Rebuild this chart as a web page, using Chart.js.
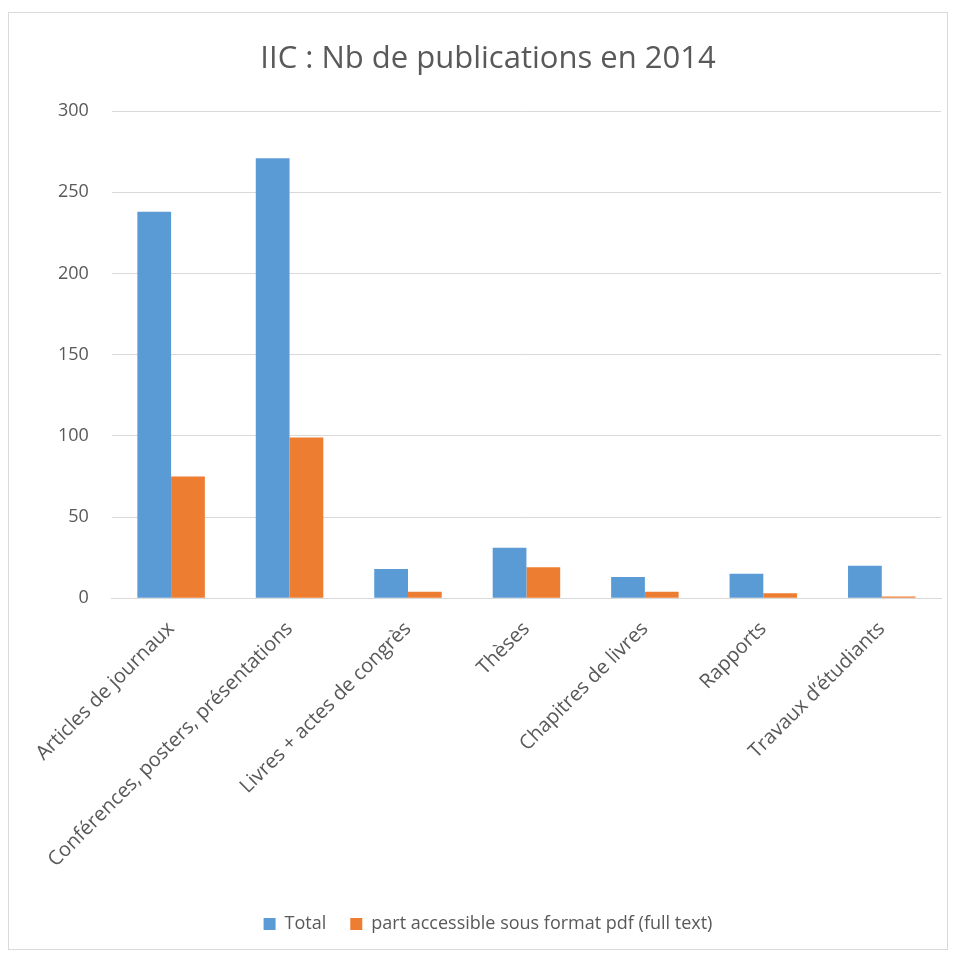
<!DOCTYPE html>
<html>
<head>
<meta charset="utf-8">
<script src="https://cdn.jsdelivr.net/npm/chart.js@4"></script>
<style>
    body { margin: 0; background: #fff; }
    #frame {
        position: absolute; left: 8px; top: 12px;
        width: 940px; height: 938px;
        border: 1px solid #d9d9d9; box-sizing: border-box;
    }
    #chart-box { position: absolute; left: 0; top: 0; width: 938px; height: 936px; }
</style>
</head>
<body>
<div id="frame"><div id="chart-box"><canvas id="pubChart"></canvas></div></div>
<script>
// Chart data
const categories = ['Articles de journaux', 'Conférences, posters, présentations', 'Livres + actes de congrès',
    'Thèses', 'Chapitres de livres', 'Rapports', 'Travaux d\u2019étudiants'];
const totalValues = [238, 271, 18, 31, 13, 15, 20];
const pdfValues = [75, 99, 4, 19, 4, 3, 1];
const yTicks = [0, 50, 100, 150, 200, 250, 300];

const colors = {
    blue: '#5b9bd5',
    orange: '#ed7d31',
    grid: '#d9d9d9',
    text: '#595959'
};

const font = '"Open Sans", "DejaVu Sans", sans-serif';

const ctx = document.getElementById('pubChart').getContext('2d');
new Chart(ctx, {
    type: 'bar',
    data: {
        labels: categories,
        datasets: [{
            label: 'Total',
            data: totalValues,
            backgroundColor: colors.blue
        }, {
            label: 'part accessible sous format pdf (full text)',
            data: pdfValues,
            backgroundColor: colors.orange
        }]
    },
    options: {
        responsive: true,
        maintainAspectRatio: false,
        animation: false,
        layout: { padding: { left: 26, right: 6, top: 4, bottom: 6 } },
        datasets: {
            bar: { categoryPercentage: 0.57, barPercentage: 1.0 }
        },
        plugins: {
            title: {
                display: true,
                text: 'IIC : Nb de publications en 2014',
                color: colors.text,
                font: { family: font, size: 31, weight: 'normal' },
                padding: { top: 24, bottom: 33 }
            },
            legend: {
                position: 'bottom',
                labels: {
                    color: colors.text,
                    font: { family: font, size: 18 },
                    boxWidth: 12,
                    boxHeight: 12,
                    padding: 24
                }
            },
            tooltip: { enabled: false }
        },
        scales: {
            y: {
                min: 0,
                max: 300,
                afterBuildTicks: (axis) => { axis.ticks = yTicks.map(v => ({ value: v })); },
                grid: { color: colors.grid, drawTicks: false },
                border: { display: false },
                ticks: {
                    color: colors.text,
                    font: { family: font, size: 18 },
                    padding: 23
                }
            },
            x: {
                grid: { display: false, drawTicks: false },
                border: { color: colors.grid, width: 1 },
                ticks: {
                    color: colors.text,
                    font: { family: font, size: 20 },
                    minRotation: 45,
                    maxRotation: 45,
                    padding: 19
                }
            }
        }
    }
});
</script>
</body>
</html>
